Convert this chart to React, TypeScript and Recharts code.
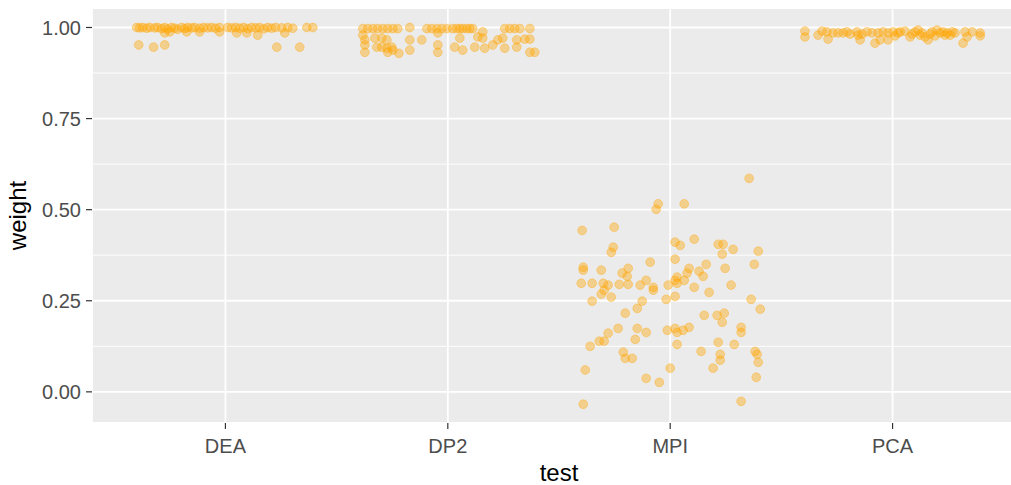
import {
  CartesianGrid,
  Label,
  ReferenceLine,
  Scatter,
  ScatterChart,
  XAxis,
  YAxis,
} from 'recharts'

const tests = ['DEA', 'DP2', 'MPI', 'PCA']
const weightTicks = [0, 0.25, 0.5, 0.75, 1]
const minorBreaks = [0.125, 0.375, 0.625, 0.875]

// [jitter offset from category centre, weight]
const deaPoints: [number, number][] = [
  [-0.399, 1.0], [-0.386, 0.999], [-0.372, 1.0], [-0.354, 0.998], [-0.341, 1.0],
  [-0.318, 0.999], [-0.305, 1.0], [-0.287, 0.997], [-0.273, 1.0], [-0.26, 0.996],
  [-0.242, 1.0], [-0.228, 0.998], [-0.215, 0.995], [-0.197, 1.0], [-0.183, 0.997],
  [-0.17, 1.0], [-0.152, 0.999], [-0.138, 1.0], [-0.116, 0.998], [-0.098, 1.0],
  [-0.08, 0.999], [-0.062, 1.0], [-0.044, 0.998], [-0.026, 1.0], [0.01, 1.0],
  [0.028, 0.999], [0.046, 1.0], [0.064, 0.998], [0.082, 1.0], [0.1, 0.997],
  [0.118, 1.0], [0.136, 0.999], [0.154, 1.0], [0.172, 0.996], [0.19, 1.0],
  [0.208, 0.998], [0.226, 1.0], [0.253, 0.999], [0.28, 1.0], [0.303, 0.998],
  [0.366, 1.0], [0.393, 1.0],
  [-0.273, 0.985], [-0.25, 0.988], [-0.174, 0.988], [-0.116, 0.988], [-0.026, 0.988],
  [0.051, 0.985], [0.096, 0.985], [0.145, 0.979], [0.267, 0.985],
  [-0.39, 0.952], [-0.323, 0.946], [-0.273, 0.952], [0.231, 0.946], [0.334, 0.946],
]

const dp2Points: [number, number][] = [
  [-0.382, 0.997], [-0.36, 0.997], [-0.337, 0.997], [-0.315, 0.997], [-0.292, 0.997],
  [-0.27, 0.997], [-0.247, 0.997], [-0.225, 0.997], [-0.171, 1.0], [-0.094, 0.997],
  [-0.072, 0.997], [-0.049, 0.997], [-0.027, 0.997], [-0.004, 0.997], [0.022, 0.997],
  [0.04, 0.997], [0.054, 0.997], [0.067, 0.997], [0.085, 0.997], [0.099, 0.997],
  [0.112, 0.997], [0.256, 0.997], [0.279, 0.997], [0.301, 0.997], [0.324, 0.997],
  [0.369, 0.997], [0.157, 0.988],
  [-0.382, 0.979], [-0.373, 0.966], [-0.373, 0.952], [-0.373, 0.932], [-0.328, 0.971],
  [-0.297, 0.971], [-0.274, 0.966], [-0.319, 0.946], [-0.297, 0.946], [-0.274, 0.943],
  [-0.252, 0.946], [-0.247, 0.938], [-0.27, 0.932], [-0.22, 0.929], [-0.171, 0.966],
  [-0.171, 0.938], [-0.117, 0.966], [-0.045, 0.985], [-0.045, 0.952], [-0.045, 0.932],
  [0.054, 0.971], [0.031, 0.946], [0.067, 0.938], [0.121, 0.946], [0.135, 0.974],
  [0.157, 0.971], [0.166, 0.943], [0.202, 0.952], [0.225, 0.966], [0.247, 0.971],
  [0.256, 0.943], [0.31, 0.966], [0.346, 0.968], [0.369, 0.968], [0.31, 0.946],
  [0.369, 0.932], [0.391, 0.932],
]

const mpiPoints: [number, number][] = [
  [0.355, 0.586], [-0.054, 0.516], [-0.063, 0.501], [0.063, 0.516], [-0.396, 0.443],
  [-0.252, 0.452], [-0.256, 0.397], [-0.265, 0.383], [0.022, 0.411], [0.045, 0.402],
  [0.108, 0.419], [0.216, 0.405], [0.238, 0.405], [0.283, 0.391], [0.396, 0.386],
  [0.234, 0.378], [0.022, 0.364], [-0.09, 0.356], [0.162, 0.35], [0.378, 0.35],
  [0.247, 0.339], [-0.391, 0.342], [-0.391, 0.334], [-0.31, 0.334], [-0.189, 0.339],
  [-0.216, 0.326], [-0.193, 0.317], [0.085, 0.339], [0.13, 0.331], [0.148, 0.317],
  [0.076, 0.326], [0.031, 0.315], [0.022, 0.306], [0.063, 0.306], [-0.4, 0.298],
  [-0.351, 0.298], [-0.301, 0.298], [-0.279, 0.293], [-0.229, 0.295], [-0.189, 0.295],
  [-0.135, 0.293], [-0.108, 0.306], [-0.076, 0.287], [-0.076, 0.279], [-0.009, 0.293],
  [0.031, 0.298], [0.108, 0.287], [0.274, 0.293], [-0.297, 0.279], [-0.31, 0.268],
  [-0.265, 0.26], [-0.351, 0.249], [-0.126, 0.249], [-0.018, 0.254], [0.022, 0.262],
  [0.175, 0.273], [0.364, 0.254], [0.405, 0.227], [-0.148, 0.229], [-0.202, 0.216],
  [0.153, 0.21], [0.211, 0.21], [0.243, 0.216], [0.234, 0.191], [0.319, 0.177],
  [-0.234, 0.174], [-0.148, 0.174], [-0.013, 0.169], [0.022, 0.174], [0.085, 0.177],
  [-0.279, 0.161], [-0.108, 0.163], [0.031, 0.163], [0.058, 0.169], [0.319, 0.163],
  [-0.319, 0.139], [-0.297, 0.139], [-0.157, 0.144], [-0.36, 0.125], [0.031, 0.13],
  [0.216, 0.136], [0.288, 0.13], [-0.211, 0.109], [-0.202, 0.092], [-0.171, 0.092],
  [0.139, 0.111], [0.225, 0.103], [0.225, 0.087], [0.382, 0.111], [0.391, 0.103],
  [0.396, 0.081], [-0.382, 0.06], [0.0, 0.065], [0.193, 0.065], [-0.108, 0.037],
  [-0.049, 0.026], [0.387, 0.04], [-0.391, -0.034], [0.319, -0.026],
]

const pcaPoints: [number, number][] = [
  [-0.394, 0.99], [-0.394, 0.974], [-0.335, 0.979], [-0.317, 0.99], [-0.295, 0.988],
  [-0.29, 0.968], [-0.268, 0.985], [-0.245, 0.985], [-0.223, 0.985], [-0.205, 0.988],
  [-0.191, 0.982], [-0.16, 0.988], [-0.155, 0.979], [-0.146, 0.966], [-0.137, 0.982],
  [-0.115, 0.988], [-0.092, 0.985], [-0.079, 0.957], [-0.065, 0.985], [-0.056, 0.966],
  [-0.043, 0.988], [-0.02, 0.985], [-0.02, 0.966], [0.002, 0.988], [0.011, 0.977],
  [0.025, 0.985], [0.034, 0.988], [0.056, 0.99], [0.079, 0.974], [0.088, 0.982],
  [0.101, 0.988], [0.115, 0.993], [0.124, 0.979], [0.133, 0.985], [0.146, 0.974],
  [0.16, 0.966], [0.169, 0.982], [0.178, 0.988], [0.191, 0.977], [0.2, 0.993],
  [0.214, 0.985], [0.227, 0.988], [0.236, 0.979], [0.245, 0.985], [0.259, 0.979],
  [0.268, 0.988], [0.281, 0.985], [0.317, 0.957], [0.326, 0.988], [0.335, 0.974],
  [0.358, 0.988], [0.394, 0.985], [0.394, 0.977],
]

const groups = [deaPoints, dp2Points, mpiPoints, pcaPoints]

const data = groups.flatMap((pts, i) =>
  pts.map(([jitter, weight]) => ({ x: i + 1 + jitter, y: weight, test: tests[i] })),
)

const tickStyle = { fill: '#4D4D4D', fontSize: 20 }

function Dot(props: any) {
  const { cx, cy } = props
  return (
    <circle
      cx={cx}
      cy={cy}
      r={4.4}
      fill="#FFA500"
      fillOpacity={0.4}
      stroke="#FFA500"
      strokeOpacity={0.4}
      strokeWidth={0.9}
    />
  )
}

export default function App() {
  return (
    <div
      style={{
        position: 'absolute',
        left: 0,
        top: 0,
        width: 1011,
        height: 485,
        overflow: 'hidden',
        background: '#fff',
        fontFamily: '"Liberation Sans", Arial, sans-serif',
      }}
    >
      <ScatterChart width={1030} height={485} margin={{ top: 8, right: 4, bottom: 0, left: 0 }}>
        <CartesianGrid fill="#EBEBEB" fillOpacity={1} stroke="#FFFFFF" strokeWidth={1.8} />
        {minorBreaks.map((v) => (
          <ReferenceLine key={v} y={v} stroke="#FFFFFF" strokeWidth={0.9} />
        ))}
        <XAxis
          type="number"
          dataKey="x"
          domain={[0.4, 4.6]}
          ticks={[1, 2, 3, 4]}
          tickFormatter={(v: number) => tests[v - 1]}
          allowDataOverflow
          axisLine={false}
          tickLine={{ stroke: '#333333', strokeWidth: 1.2 }}
          tickSize={6}
          tickMargin={10}
          tick={tickStyle}
          height={62}
        >
          <Label
            content={({ viewBox }: any) => (
              <text
                x={viewBox.x + viewBox.width / 2}
                y={viewBox.y + viewBox.height - 4}
                textAnchor="middle"
                fontSize={24}
                fill="#000"
              >
                test
              </text>
            )}
          />
        </XAxis>
        <YAxis
          type="number"
          dataKey="y"
          domain={[-0.0855, 1.0535]}
          ticks={weightTicks}
          tickFormatter={(v: number) => v.toFixed(2)}
          allowDataOverflow
          axisLine={false}
          tickLine={{ stroke: '#333333', strokeWidth: 1.2 }}
          tickSize={6}
          tickMargin={5}
          tick={tickStyle}
          width={92}
        >
          <Label
            content={({ viewBox }: any) => {
              const x = viewBox.x + 26
              const y = viewBox.y + viewBox.height / 2
              return (
                <text
                  x={x}
                  y={y}
                  transform={`rotate(-90 ${x} ${y})`}
                  textAnchor="middle"
                  fontSize={24}
                  fill="#000"
                >
                  weight
                </text>
              )
            }}
          />
        </YAxis>
        <Scatter data={data} shape={<Dot />} isAnimationActive={false} />
      </ScatterChart>
    </div>
  )
}
